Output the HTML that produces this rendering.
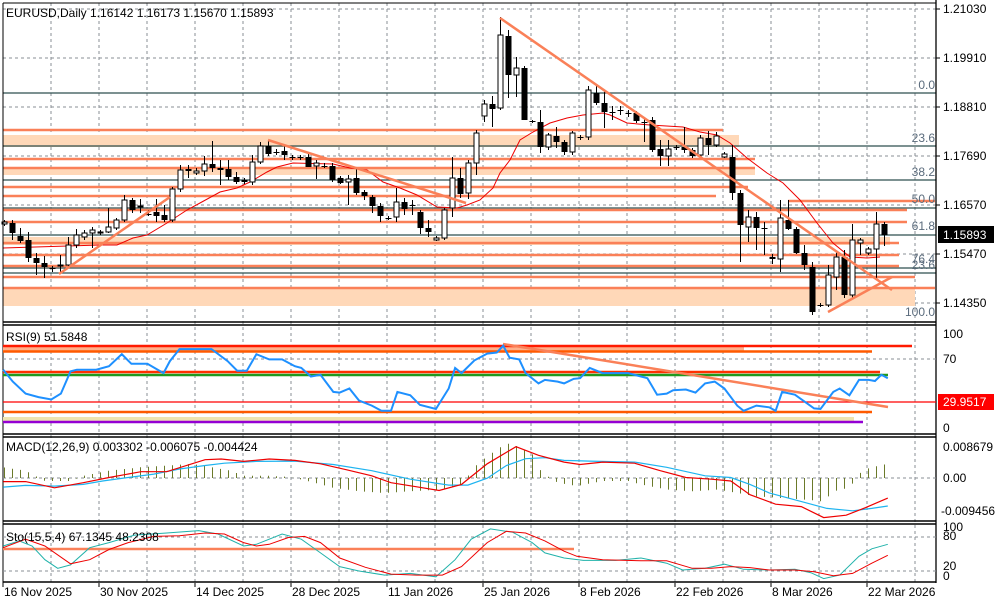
<!DOCTYPE html>
<html><head><meta charset="utf-8"><style>
html,body{margin:0;padding:0;background:#fff;width:1000px;height:600px;overflow:hidden}
svg{display:block}
text{font-family:"Liberation Sans",sans-serif;font-size:12px;fill:#000}
</style></head><body>
<svg id="s" width="1000" height="600" xmlns="http://www.w3.org/2000/svg"></svg>
<script>
var S=document.getElementById('s'),h='';
function L(x1,y1,x2,y2,c,w,d){h+='<line x1="'+x1+'" y1="'+y1+'" x2="'+x2+'" y2="'+y2+'" stroke="'+c+'" stroke-width="'+(w||1)+'"'+(d?' stroke-dasharray="'+d+'"':'')+'/>';}
function R(x,y,w,hh,c){h+='<rect x="'+x+'" y="'+y+'" width="'+w+'" height="'+hh+'" fill="'+c+'"/>';}
function T(x,y,t,c,a){h+='<text x="'+x+'" y="'+y+'"'+(c?' style="fill:'+c+'"':'')+(a?' text-anchor="'+a+'"':'')+'>'+t+'</text>';}
function P(pts,c,w){h+='<polyline fill="none" stroke="'+c+'" stroke-width="'+(w||1)+'" points="'+pts.map(function(p){return p[0]+','+p[1]}).join(' ')+'"/>';}
function Z(pts){return pts.map(function(p){return [+(p[0]/1.56).toFixed(1),+(320+p[1]/2.92).toFixed(1)]});}
var OR='#fa8058',BD='#ffd8b8',DK='#2f4f4f',GR='#8a8f96';
R(0,0,1000,600,'#fff');
for(var gx=51;gx<936;gx+=48){L(gx,3,gx,583,GR,1,'3,3');}
[9,58,107,156,205,254,303].forEach(function(y){L(3,y,936,y,GR,1,'3,3');});
R(3,135,736,12,BD);R(3,168,752,7,BD);R(3,237,887,8,BD);R(3,288,912,18,BD);
[93,146,180,208,235,268,273].forEach(function(y){L(3,y,936,y,DK,1.3);});
[[3,130,723],[3,159,755],[3,168,755],[3,187,748],[3,196,716],[788,201,935],[3,210,907],[3,222,907],[3,243,899],[3,255,899],[3,266,899],[3,277,915],[3,288,935]].forEach(function(a){L(a[0],a[1],a[2],a[1],OR,2.5);});
P([[3,248],[100,245],[117,245],[133,238],[147,235],[167,223],[187,210],[200,203],[220,192],[237,188],[250,182],[267,172],[277,167],[293,163],[333,164],[350,168],[367,170],[383,182],[400,188],[417,195],[437,207],[457,208],[467,205],[480,200],[493,188],[500,173],[510,160],[520,140],[533,132],[550,123],[567,118],[583,115],[603,113],[610,115],[627,123],[650,125],[683,127],[700,132],[717,135],[730,143],[747,158],[767,173],[783,183],[800,200],[817,223],[833,243],[850,257],[867,258],[880,257]],'#e00',1);
var C=[[222,224,220,226,1],[223,233,220,240,0],[236,241,228,243,0],[240,258,232,262,0],[258,263,253,275,0],[263,267,256,278,0],[268,268,266,272,0],[265,266,255,273,1],[245,265,237,268,1],[235,245,229,248,1],[233,237,230,240,1],[230,233,227,248,1],[232,233,230,235,1],[227,232,208,233,1],[220,228,218,230,1],[200,220,195,222,1],[200,210,198,213,0],[206,207,199,213,1],[214,215,210,216,0],[212,216,199,222,0],[215,220,205,222,0],[189,220,187,222,1],[170,189,165,192,1],[169,171,165,178,0],[171,173,168,175,1],[164,171,156,176,1],[164,168,141,172,0],[168,170,160,185,0],[169,177,160,180,0],[177,182,172,184,0],[180,182,178,184,0],[162,182,155,185,1],[146,162,142,164,1],[146,154,140,156,0],[152,153,149,155,0],[151,155,146,160,0],[157,158,155,160,0],[157,158,155,160,0],[157,167,152,167,0],[163,166,160,179,1],[166,167,163,168,0],[166,180,163,182,0],[178,183,176,184,0],[179,182,175,205,1],[178,193,168,195,0],[192,196,190,200,0],[197,206,195,213,0],[206,216,203,222,0],[218,219,216,220,0],[202,217,188,222,1],[202,209,198,215,0],[205,206,200,215,0],[212,228,210,234,0],[228,232,220,237,0],[238,240,236,241,1],[210,238,208,240,1],[178,208,157,217,1],[178,194,168,198,0],[163,193,160,199,1],[133,163,130,175,1],[104,116,100,122,1],[104,109,96,127,0],[35,108,17,110,1],[36,75,30,98,0],[68,75,57,97,1],[68,120,66,120,0],[121,122,120,123,0],[122,147,110,153,0],[135,147,133,150,1],[136,142,127,148,0],[142,152,140,155,0],[133,152,131,155,1],[137,138,135,140,0],[90,137,86,140,1],[93,103,86,105,0],[103,112,90,128,0],[112,113,106,120,0],[110,111,106,115,0],[113,114,110,117,0],[113,121,111,123,0],[122,123,118,142,0],[120,150,117,152,0],[149,156,140,166,0],[149,156,140,166,1],[147,148,145,150,0],[147,150,127,153,0],[150,156,148,158,0],[138,155,135,157,1],[138,145,131,155,0],[136,145,132,147,1],[154,157,152,158,1],[157,193,145,200,0],[193,225,190,262,0],[217,227,210,242,1],[217,228,212,250,0],[228,229,222,255,0],[257,259,254,264,0],[218,259,200,272,1],[220,229,200,230,0],[229,253,227,254,0],[253,265,245,270,0],[267,312,262,315,0],[305,306,303,307,0],[275,305,265,307,1],[257,277,252,290,1],[257,295,250,298,0],[240,295,224,298,1],[240,243,238,255,1],[249,253,247,255,1],[224,249,212,280,1],[224,235,222,246,0]];
C.forEach(function(c,i){var x=4+8*i+0.5;L(x,c[2],x,c[3],'#000',1);var bh=Math.max(1,c[1]-c[0]);
 if(c[4])h+='<rect x="'+(x-2.5)+'" y="'+c[0]+'" width="5" height="'+bh+'" fill="#fff" stroke="#000" stroke-width="1"/>';
 else R(x-3,c[0],6,bh,'#000');});
L(59,274,170,197,OR,2.5);L(268,140,466,203,OR,2.5);L(500,18,892,290,OR,2.5);L(828,312,892,277,OR,2.5);
var FC='#5a6b7c';
[['0.0',92],['23.6',145],['38.2',179],['50.0',206],['61.8',233],['76.4',266],['23.6',272],['100.0',319]].forEach(function(f){T(935,f[1]-3,f[0],FC,'end');});
T(6,17,'EURUSD,Daily  1.16142 1.16173 1.15670 1.15893');
[['1.21030',9],['1.19910',58],['1.18810',107],['1.17690',156],['1.16570',205],['1.15470',254],['1.14350',303]].forEach(function(p){L(936,p[1],940,p[1],'#000');T(943,p[1]+4,p[0]);});
R(938,226,56,17,'#000');T(943,239,'1.15893','#fff');
L(3,3,936,3,'#000');L(3,3,3,583,'#000');L(936,0,936,583,'#000',1.3);
L(3,322,936,322,'#000',1.5);L(3,325,936,325,'#000',1.5);
L(3,434,936,434,'#000',1.5);L(3,437,936,437,'#000',1.5);
L(3,521,936,521,'#000',1.5);L(3,524,936,524,'#000',1.5);
L(3,582,936,582,'#000',1.5);
L(3,359,936,359,GR,1,'3,3');
R(3,346,741,5,'#ffb08a');
L(3,346,912,346,'#ff1a00',2.5);L(3,351.5,872,351.5,'#ff5a00',2.5);L(3,372,880,372,'#ff3000',2.5);L(3,375,888,375,'#1f9a1f',2.5);
L(3,402,936,402,'#ff0000',1.2);L(3,412,872,412,'#ff5a00',2.5);R(3,417,851,4,'#eee4b0');L(3,422,863,422,'#9400d3',2.5);
L(503,344,888,407,OR,2.5);
P(Z([[5,145],[20,180],[40,215],[60,225],[80,232],[95,215],[110,150],[120,145],[150,145],[170,135],[190,100],[205,128],[230,128],[255,155],[265,120],[280,85],[330,85],[355,120],[370,148],[385,148],[400,100],[420,115],[440,115],[460,135],[470,140],[485,165],[500,160],[520,210],[530,212],[545,200],[560,235],[580,250],[595,265],[610,265],[620,210],[640,220],[655,248],[680,260],[700,200],[710,140],[720,155],[740,118],[760,98],[775,95],[785,75],[795,110],[810,115],[820,155],[840,185],[850,175],[870,180],[880,185],[895,172],[905,170],[920,140],[940,155],[980,155],[1000,165],[1010,170],[1025,218],[1040,215],[1050,205],[1070,203],[1085,212],[1100,185],[1115,180],[1130,200],[1150,250],[1160,265],[1180,250],[1200,255],[1210,265],[1220,210],[1240,218],[1270,258],[1280,260],[1300,210],[1310,200],[1325,220],[1340,175],[1355,175],[1365,178],[1375,160],[1385,170]]),'#1e90ff',2);
T(6,341,'RSI(9) 51.5848');
T(943,338,'100');T(943,363,'70');T(943,432,'0');
R(938,394,56,16,'#ff0000');T(943,406,'29.9517','#fff');
L(3,478,936,478,GR,1,'3,3');
var HG=[[5,430],[40,440],[70,470],[110,470],[130,455],[170,440],[220,430],[260,425],[300,420],[330,430],[360,440],[380,455],[420,455],[450,458],[480,470],[520,490],[560,500],[600,505],[640,500],[690,495],[720,480],[745,420],[770,385],[790,360],[810,370],[830,390],[845,445],[870,475],[900,485],[940,470],[980,470],[1000,480],[1040,495],[1080,500],[1120,495],[1150,505],[1180,515],[1220,520],[1260,525],[1285,530],[1300,500],[1325,490],[1345,440],[1360,430],[1385,420]];
function interp(a,X){for(var k=0;k<a.length-1;k++){if(X>=a[k][0]&&X<=a[k+1][0]){var t=(X-a[k][0])/(a[k+1][0]-a[k][0]);return a[k][1]+t*(a[k+1][1]-a[k][1]);}}return null;}
for(var i=0;i<111;i++){var x=4+8*i+0.5;var v=interp(HG,x*1.56);if(v==null)continue;var y=320+v/2.92;L(x,478,x,y.toFixed(1),'#6b7a2a',1);}
P(Z([[5,488],[40,483],[85,485],[130,480],[160,470],[200,460],[240,450],[280,435],[320,425],[350,418],[400,413],[460,412],[520,422],[580,440],[640,465],[700,482],[730,482],[760,462],[790,425],[820,405],[850,402],[880,410],[920,412],[990,415],[1040,430],[1100,455],[1140,460],[1170,480],[1200,505],[1240,525],[1290,550],[1330,557],[1360,550],[1385,543]]),'#1eb4f0',1.2);
P(Z([[5,472],[40,472],[85,490],[130,475],[170,460],[220,443],[260,443],[320,408],[345,406],[380,413],[420,406],[460,410],[500,420],[540,437],[580,455],[610,475],[650,487],[685,498],[720,480],[760,420],[805,370],[840,395],[880,415],[905,422],[940,415],[990,418],[1030,440],[1070,460],[1110,465],[1140,470],[1170,510],[1210,538],[1250,545],[1285,577],[1320,570],[1350,548],[1385,520]]),'#e00',1.2);
T(6,451,'MACD(12,26,9) 0.003302 -0.006075 -0.004424');
T(943,451,'0.008679');T(943,482,'0.00');T(941,515,'-0.009456');
L(3,537,936,537,GR,1,'3,3');L(3,571,936,571,GR,1,'3,3');
L(3,549,574,549,OR,2.5);
P(Z([[5,660],[30,645],[50,660],[70,700],[90,725],[110,715],[140,665],[170,650],[210,628],[260,622],[310,615],[340,625],[380,660],[400,655],[440,625],[470,640],[500,680],[530,720],[560,733],[600,745],[640,740],[680,750],[710,700],[735,640],[765,610],[800,620],[830,650],[850,680],[880,695],[910,702],[960,702],[1000,695],[1040,710],[1065,730],[1100,725],[1130,713],[1160,728],[1200,730],[1240,728],[1265,738],[1285,755],[1310,745],[1340,690],[1360,668],[1385,655]]),'#20b2aa',1);
P(Z([[5,665],[40,640],[70,660],[110,712],[140,700],[170,670],[200,650],[240,632],[280,630],[320,622],[350,625],[380,650],[400,660],[420,655],[450,635],[475,632],[500,650],[530,695],[570,722],[610,742],[650,745],[690,745],[720,720],[760,650],[790,617],[820,622],[850,645],[880,675],[900,690],[940,700],[1000,703],[1040,703],[1080,725],[1110,725],[1140,720],[1170,723],[1200,730],[1240,730],[1270,735],[1300,747],[1330,740],[1360,710],[1385,687]]),'#e00',1);
T(6,541,'Sto(15,5,4) 67.1345 48.2308');
T(943,531,'100');T(943,540,'80');T(943,570,'20');T(943,580,'0');
[['16 Nov 2025',3],['30 Nov 2025',99],['14 Dec 2025',195],['28 Dec 2025',291],['11 Jan 2026',387],['25 Jan 2026',483],['8 Feb 2026',579],['22 Feb 2026',675],['8 Mar 2026',771],['22 Mar 2026',867]].forEach(function(d){L(d[1],583,d[1],587,'#000');T(d[1]+1,596,d[0]);});
S.innerHTML=h;
</script>
</body></html>
